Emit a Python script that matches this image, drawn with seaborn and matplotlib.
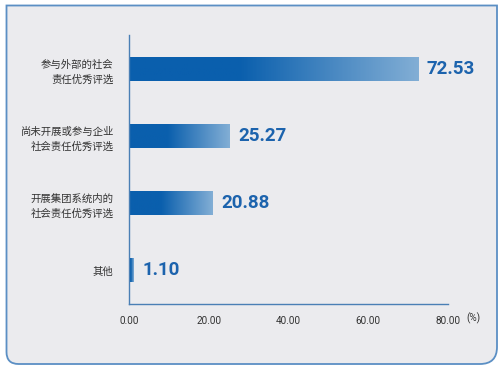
import numpy as np
import pandas as pd
import seaborn as sns
import matplotlib.pyplot as plt
from matplotlib.path import Path
from matplotlib.patches import PathPatch
from matplotlib.colors import LinearSegmentedColormap

categories = ['参与外部的社会\n责任优秀评选', '尚未开展或参与企业\n社会责任优秀评选',
              '开展集团系统内的\n社会责任优秀评选', '其他']
values = [72.53, 25.27, 20.88, 1.10]
xticks = [0, 20, 40, 60, 80]

df = pd.DataFrame({'cat': categories, 'val': values})

sns.set_style('white')
plt.rcParams['font.family'] = ['Noto Sans CJK SC', 'DejaVu Sans']

fig = plt.figure(figsize=(5.01, 3.72), dpi=100)
fig.patch.set_facecolor('white')

# panel background with rounded bottom corners (pixel coords)
bg = fig.add_axes([0, 0, 1, 1], zorder=0)
bg.set_xlim(0, 501)
bg.set_ylim(372, 0)
bg.axis('off')
L, T, R, B, rl, rr = 6.5, 5.5, 497, 364, 12, 17
verts = [(L, T), (R, T), (R, B - rr), (R, B), (R - rr, B), (L + rl, B), (L, B), (L, B - rl), (L, T)]
codes = [Path.MOVETO, Path.LINETO, Path.LINETO, Path.CURVE3, Path.CURVE3,
         Path.LINETO, Path.CURVE3, Path.CURVE3, Path.CLOSEPOLY]
bg.add_patch(PathPatch(Path(verts, codes), facecolor='#ebebee', edgecolor='#5b8fc4', lw=1.3))

ax = fig.add_axes([129 / 501, 1 - 304 / 372, 319 / 501, 269 / 372], zorder=1)
ax.patch.set_alpha(0)
sns.barplot(data=df, x='val', y='cat', orient='h', width=0.36, ax=ax,
            color='#0a5fad', edgecolor='none')

cmap = LinearSegmentedColormap.from_list('g', ['#0a5fad', '#82aed5'])
t = np.linspace(0, 1, 256)
grad = np.clip((t - 0.38) / 0.62, 0, 1)[None, :]
for p in ax.patches:
    x0, y0, w, h = p.get_x(), p.get_y(), p.get_width(), p.get_height()
    p.set_facecolor('none')
    im = ax.imshow(grad, extent=[x0, x0 + w, y0 + h, y0], aspect='auto',
                   cmap=cmap, vmin=0, vmax=1, zorder=2)
    im.set_clip_path(p)
    ax.text(x0 + w + 2.2, y0 + h / 2, f'{w:.2f}', va='center', ha='left',
            fontsize=13.5, fontweight='bold', color='#1c63ad', family='Roboto')

ax.set_xlim(0, 80)
ax.set_ylim(len(categories) - 0.5, -0.5)
sns.despine(ax=ax)
for s in ['left', 'bottom']:
    ax.spines[s].set_color('#4a7fb5')
    ax.spines[s].set_linewidth(1.0)

ax.set_xticks(xticks)
ax.set_xticklabels([f'{v:.2f}' for v in xticks], family='Roboto', fontsize=7.2, color='#333333')
ax.tick_params(axis='x', direction='in', length=4, width=1, color='#4a7fb5', pad=9)
ax.set_yticks(range(len(categories)))
ax.set_yticklabels(categories, fontsize=7.5, color='#333333', linespacing=1.55)
ax.tick_params(axis='y', which='major', length=0, pad=11)
ax.set_yticks(np.arange(-0.5, len(categories), 1), minor=True)
ax.tick_params(axis='y', which='minor', direction='in', length=4, width=1, color='#4a7fb5')
ax.set_xlabel('')
ax.set_ylabel('')
ax.text((473 - 129) / 319, -0.052, '(%)', transform=ax.transAxes, ha='center', va='center',
        fontsize=7.2, color='#333333', family='Roboto')

fig.savefig('out.png', dpi=100)
